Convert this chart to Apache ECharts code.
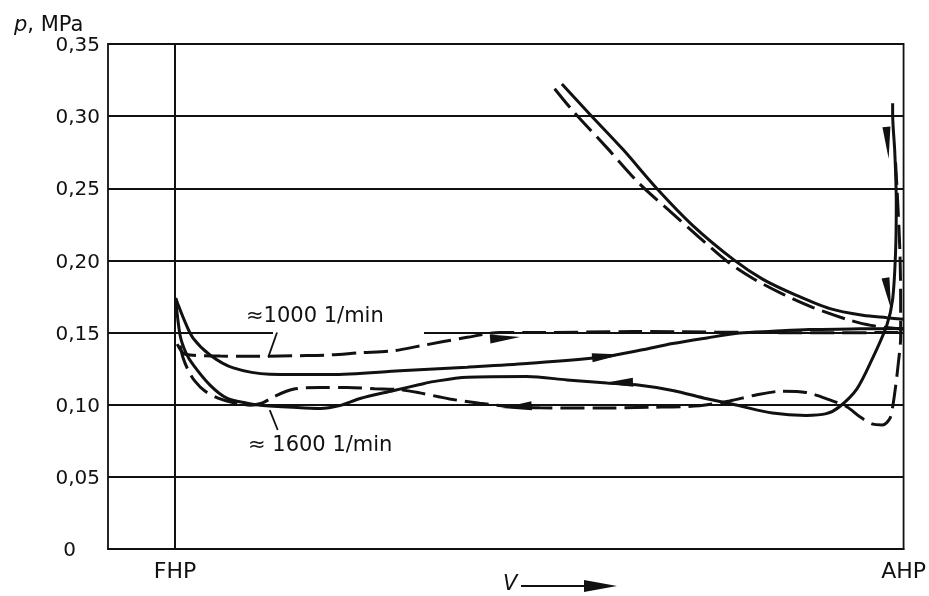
<!DOCTYPE html>
<html>
<head>
<meta charset="utf-8">
<script src="https://cdn.jsdelivr.net/npm/echarts@6/dist/echarts.min.js"></script>
<style>
  html, body { margin: 0; padding: 0; background: #fff; }
  #chart { width: 929px; height: 596px; }
</style>
</head>
<body>
<div id="chart"></div>
<script>
// ---- data (x: FHP = 0, AHP = 100 ; y: p in MPa) ----
const xTickValues = [0, 100];
const xTickLabels = ['FHP', 'AHP'];
const yTicks = [0, 0.05, 0.10, 0.15, 0.20, 0.25, 0.30, 0.35];

const solid1000 = [[0.1,0.174],[0.3,0.171],[1.4,0.157],[2.5,0.146],[4.8,0.1345],[8.0,0.1255],[13.0,0.1212],[21.3,0.121],[30.9,0.1235],[40.1,0.126],[48.3,0.1285],[58.7,0.133],[63.8,0.1377],[68.3,0.1424],[73.0,0.1463],[77.5,0.1497],[82.0,0.1509],[87.1,0.1521],[94.0,0.1526],[100,0.1528]];
const dashed1000 = [[0.3,0.142],[1.4,0.135],[6.2,0.1337],[11.7,0.1336],[17.1,0.134],[21.3,0.1345],[25.4,0.136],[29.9,0.1373],[33.6,0.1407],[40.1,0.1467],[44.6,0.150],[50.1,0.150],[62.8,0.1507],[85.7,0.1499],[100,0.150]];
const solid1600 = [[0.1,0.173],[0.7,0.148],[1.5,0.136],[2.5,0.1276],[4.8,0.1136],[7.1,0.1046],[9.9,0.1011],[11.7,0.0997],[16.2,0.0982],[19.9,0.0974],[22.6,0.0994],[25.4,0.1043],[29.9,0.1097],[33.6,0.114],[35.4,0.116],[40.1,0.119],[48.3,0.1195],[53.8,0.1172],[59.3,0.115],[63.8,0.1135],[68.3,0.1099],[73.0,0.1041],[77.5,0.0992],[82.0,0.0942],[86.6,0.0926],[89.4,0.0938],[91.2,0.0986],[93.6,0.111],[95.7,0.1317],[97.7,0.1551],[98.5,0.1731],[98.9,0.2055],[99.0,0.24],[98.8,0.2745],[98.5,0.302],[98.5,0.309]];
const dashed1600 = [[0.7,0.141],[1.1,0.1325],[1.8,0.124],[2.7,0.1165],[4.1,0.1095],[5.9,0.1046],[8.2,0.1012],[10.3,0.0997],[11.9,0.101],[13.7,0.1059],[16.2,0.1107],[19.9,0.112],[23.6,0.1119],[27.4,0.1111],[30.9,0.1104],[33.6,0.1082],[37.7,0.104],[41.8,0.101],[46.0,0.0988],[50.1,0.0979],[58.3,0.0977],[65.2,0.0982],[72.0,0.0993],[76.1,0.1026],[79.6,0.1066],[83.4,0.1094],[86.6,0.1085],[89.8,0.1035],[92.2,0.0986],[94.0,0.0916],[95.7,0.0867],[97.1,0.086],[98.1,0.0902],[98.5,0.0985],[98.9,0.1124],[99.3,0.1297],[99.6,0.147],[99.6,0.171],[99.5,0.2057],[99.2,0.24],[98.9,0.268]];
const solidUpper = [[53.1,0.3223],[56.9,0.3015],[61.5,0.2768],[66.1,0.25],[71.0,0.2245],[76.8,0.20],[80.7,0.1869],[85.3,0.1758],[89.9,0.1666],[94.4,0.162],[97.7,0.1603],[100,0.1592]];
const dashedUpper = [[52.1,0.319],[54.6,0.3037],[59.3,0.278],[63.8,0.2529],[68.3,0.2325],[72.5,0.2135],[76.0,0.1985],[79.5,0.187],[83.5,0.1765],[87.5,0.1675],[92.2,0.1592],[95.5,0.155],[100,0.1523]];

// direction arrows [x, y, rotationDeg]
const arrowsH = [[45.3,0.1462,-86],[59.3,0.1337,-84],[60.8,0.1152,92],[46.9,0.0985,94]];
const arrowsV = [[97.8,0.2815,184],[97.9,0.177,190]];

// annotation leader lines
const leader1000 = [[14.0,0.15],[12.8,0.133]];
const leader1600 = [[13.0,0.0963],[14.1,0.0825]];
const label1000 = '≈1000 1/min';
const label1600 = '≈ 1600 1/min';

const INK = '#111';
const FONT = 'DejaVu Sans';

const chart = echarts.init(document.getElementById('chart'), null, { renderer: 'canvas' });

function lineSeries(data, dashed, extra) {
  return Object.assign({
    type: 'line',
    data: data,
    showSymbol: false,
    symbol: 'none',
    smooth: 0.3,
    silent: true,
    z: 3,
    lineStyle: { color: INK, width: 3, type: dashed ? [24, 8] : 'solid', cap: 'butt' }
  }, extra || {});
}

const option = {
  backgroundColor: '#fff',
  animation: false,
  grid: { left: 108, right: 25, top: 44, bottom: 47, show: true, borderColor: INK, borderWidth: 1.8, backgroundColor: 'transparent' },
  xAxis: {
    type: 'value', min: -9.2, max: 100,
    axisLine: { show: true, lineStyle: { color: INK, width: 2 } },
    axisTick: { show: false },
    splitLine: { show: false },
    axisLabel: {
      customValues: xTickValues,
      showMinLabel: true, showMaxLabel: true,
      formatter: v => xTickLabels[xTickValues.indexOf(v)] || '',
      color: INK, fontSize: 22, fontFamily: FONT, margin: 12
    }
  },
  yAxis: {
    type: 'value', min: 0, max: 0.35, interval: 0.05,
    axisLine: { show: true, lineStyle: { color: INK, width: 2 } },
    axisTick: { show: false },
    splitLine: { show: true, lineStyle: { color: INK, width: 1.8 } },
    axisLabel: {
      color: INK, fontSize: 20, fontFamily: FONT, margin: 8, padding: [4, 0, 0, 0],
      formatter: v => {
        const t = yTicks.find(k => Math.abs(k - v) < 1e-9);
        if (t === 0) return '{z|0}';
        return (t !== undefined ? t : v).toFixed(2).replace('.', ',');
      },
      rich: { z: { color: INK, fontSize: 20, fontFamily: FONT, padding: [0, 24, 0, 0] } }
    }
  },
  graphic: [
    { type: 'rect', z: 1, shape: { x: 273, y: 330, width: 151, height: 5 }, style: { fill: '#fff' }, silent: true },
    { type: 'text', left: 14, top: 15, style: { text: '{i|p}, MPa', fill: INK, font: '21px "DejaVu Sans"',
        rich: { i: { fontStyle: 'italic', fontSize: 21, fontFamily: FONT, fill: INK } } } },
    { type: 'text', x: 246, y: 306, style: { text: label1000, fill: INK, font: '21px "DejaVu Sans"' } },
    { type: 'text', x: 248, y: 435, style: { text: label1600, fill: INK, font: '21px "DejaVu Sans"' } },
    { type: 'text', x: 503, y: 574, style: { text: 'V', fill: INK, font: 'italic 21px "DejaVu Sans"' } },
    { type: 'line', shape: { x1: 521, y1: 586, x2: 592, y2: 586 }, style: { stroke: INK, lineWidth: 2.2 } },
    { type: 'polygon', shape: { points: [[584, 580], [617, 586], [584, 592]] }, style: { fill: INK } }
  ],
  series: [
    lineSeries(solid1000, false, {
      markLine: {
        silent: true, symbol: 'none', label: { show: false },
        lineStyle: { color: INK, width: 1.8, type: 'solid' },
        data: [{ xAxis: 0 }]
      }
    }),
    lineSeries(dashed1000, true),
    lineSeries(solid1600, false),
    lineSeries(dashed1600, true),
    lineSeries(solidUpper, false),
    lineSeries(dashedUpper, true),
    { type: 'line', data: leader1000, showSymbol: false, symbol: 'none', silent: true, z: 3,
      lineStyle: { color: INK, width: 1.8 } },
    { type: 'line', data: leader1600, showSymbol: false, symbol: 'none', silent: true, z: 3,
      lineStyle: { color: INK, width: 1.8 } },
    { type: 'scatter', silent: true, z: 4,
      data: arrowsH.map(a => ({ value: [a[0], a[1]], symbolRotate: a[2] })),
      symbol: 'triangle', symbolSize: [9, 30], itemStyle: { color: INK, opacity: 1 } },
    { type: 'scatter', silent: true, z: 4,
      data: arrowsV.map(a => ({ value: [a[0], a[1]], symbolRotate: a[2] })),
      symbol: 'triangle', symbolSize: [8, 32], itemStyle: { color: INK, opacity: 1 } }
  ]
};
chart.setOption(option);
</script>
</body>
</html>
